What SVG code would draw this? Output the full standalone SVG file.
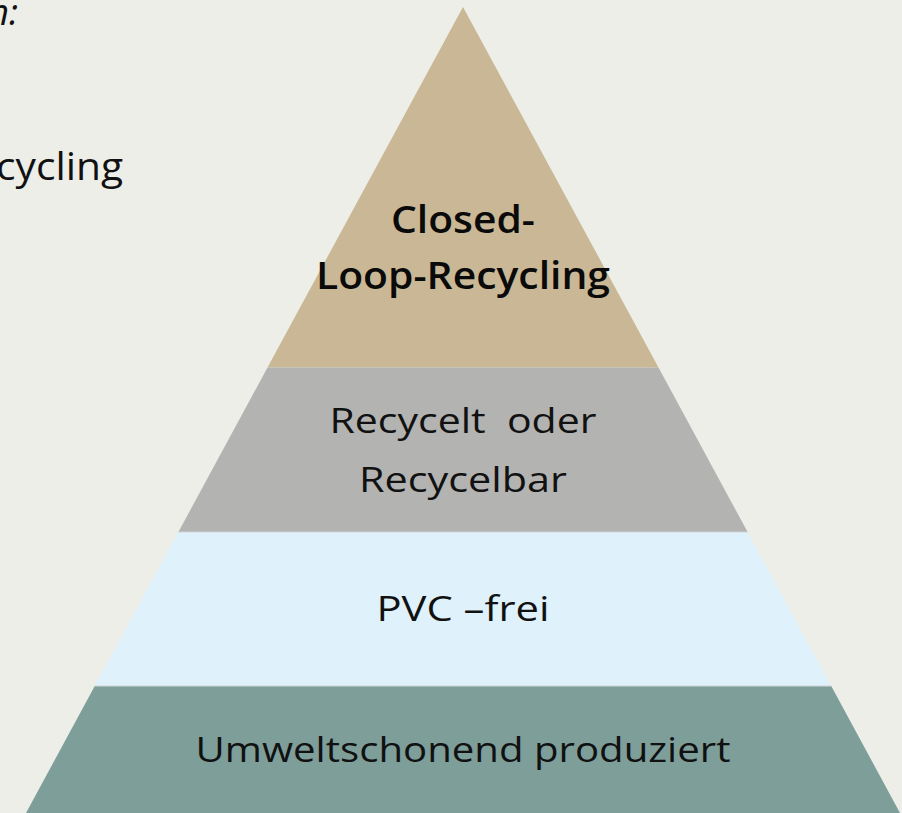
<svg xmlns="http://www.w3.org/2000/svg" width="902" height="813" viewBox="0 0 902 813">
<style>
.t{font-family:"Open Sans","Noto Sans","Liberation Sans",sans-serif;fill:#111;text-anchor:middle;font-size:34px}
.b{font-weight:600;font-size:37px;fill:#0a0a0a}
.side{font-family:"Open Sans","Noto Sans","Liberation Sans",sans-serif;fill:#111;text-anchor:end}
.sep{stroke:#cfd5d6;stroke-width:1.2}
</style>
<rect width="902" height="813" fill="#EDEEE8"/>
<text class="side" x="18" y="25" style="font-style:italic;font-size:36px">n:</text>
<text class="side" x="123" y="180" style="font-size:38px" textLength="127" lengthAdjust="spacingAndGlyphs">cycling</text>
<g id="layer1">
<polygon points="463,7 658.5,367.5 267.5,367.5" fill="#C9B795"/>
<text class="t b" x="463" y="233" textLength="144" lengthAdjust="spacingAndGlyphs">Closed-</text>
<text class="t b" x="463" y="289" textLength="294" lengthAdjust="spacingAndGlyphs">Loop-Recycling</text>
</g>
<g id="layer2">
<polygon points="267.5,367.5 658.5,367.5 747.6,532 178.4,532" fill="#B3B3B1"/>
<text class="t" x="463" y="433" textLength="267" lengthAdjust="spacingAndGlyphs" xml:space="preserve">Recycelt  oder</text>
<text class="t" x="463" y="492" textLength="208" lengthAdjust="spacingAndGlyphs">Recycelbar</text>
</g>
<g id="layer3">
<polygon points="178.4,532 747.6,532 831.2,686 94.8,686" fill="#DFF1FB"/>
<text class="t" x="463" y="621" textLength="173" lengthAdjust="spacingAndGlyphs">PVC –frei</text>
</g>
<g id="layer4">
<polygon points="94.8,686 831.2,686 900,813 26,813" fill="#7D9E99"/>
<text class="t" x="463" y="762" textLength="535" lengthAdjust="spacingAndGlyphs">Umweltschonend produziert</text>
</g>
<g id="connectors">
<line class="sep" x1="178.4" y1="532" x2="747.6" y2="532"/>
<line class="sep" x1="94.8" y1="686" x2="831.2" y2="686"/>
</g>
</svg>
